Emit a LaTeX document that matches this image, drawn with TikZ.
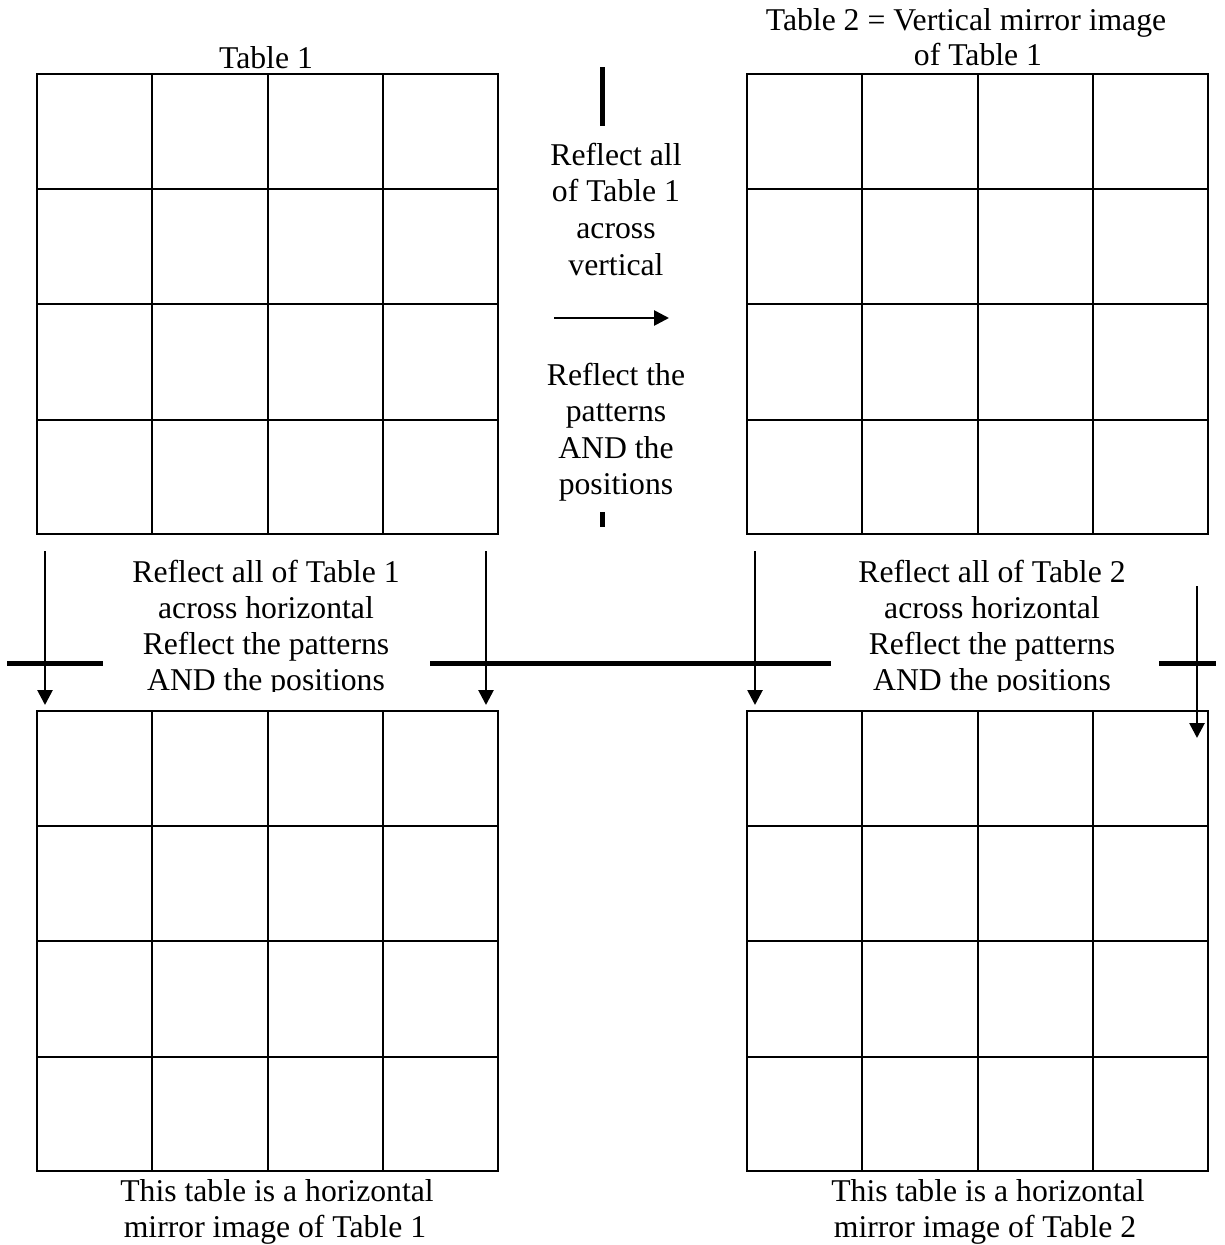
\documentclass[tikz,border=0pt]{standalone}
\usepackage{fontspec}
\setmainfont{Liberation Serif}
\usetikzlibrary{arrows.meta,calc}
\begin{document}
\begin{tikzpicture}[x=1pt,y=-1pt,
  lbl/.style={inner sep=0pt, anchor=base, font=\fontsize{31.7pt}{36.6pt}\selectfont},
  tbl/.style={draw, line width=2pt, minimum width=461pt, minimum height=460pt, inner sep=0pt, anchor=north west},
  gridline/.style={line width=2pt},
  arr/.style={line width=2.7pt, -{Triangle[length=15pt,width=15pt]}},
  mirror/.style={line width=5pt}
]
\useasboundingbox[fill=white] (0,0) rectangle (1225,1245);

% tables
\foreach \n/\x/\y in {t1/36/73, t2/746/73, t3/36/710, t4/746/710} {
  \node[tbl] (\n) at (\x,\y) {};
  \foreach \i in {1,2,3} {
    \draw[gridline] ($(\n.north west)!\i/4!(\n.north east)$) -- ($(\n.south west)!\i/4!(\n.south east)$);
    \draw[gridline] ($(\n.north west)!\i/4!(\n.south west)$) -- ($(\n.north east)!\i/4!(\n.south east)$);
  }
}

% titles
\node[lbl] (lt1) at (266,68) {Table 1};
\node[lbl] (lt2a) at (966,30) {Table 2 = Vertical mirror image};
\node[lbl] (lt2b) at (978,65) {of Table 1};

% centre column text
\node[lbl] (c1) at (616,165) {Reflect all};
\node[lbl] (c2) at (616,201.5) {of Table 1};
\node[lbl] (c3) at (616,238) {across};
\node[lbl] (c4) at (616,275) {vertical};
\node[lbl] (c5) at (616,385) {Reflect the};
\node[lbl] (c6) at (616,421.5) {patterns};
\node[lbl] (c7) at (616,458) {AND the};
\node[lbl] (c8) at (616,494.5) {positions};

% middle text blocks (clipped at the bottom)
\begin{scope}
  \clip (100,540) rectangle (435,691);
  \node[lbl] (m1) at (266,582) {Reflect all of Table 1};
  \node[lbl] (m2) at (266,618) {across horizontal};
  \node[lbl] (m3) at (266,654) {Reflect the patterns};
  \node[lbl] (m4) at (266,690) {AND the positions};
\end{scope}
\begin{scope}
  \clip (831,540) rectangle (1159,691);
  \node[lbl] (n1) at (992,582) {Reflect all of Table 2};
  \node[lbl] (n2) at (992,618) {across horizontal};
  \node[lbl] (n3) at (992,654) {Reflect the patterns};
  \node[lbl] (n4) at (992,690) {AND the positions};
\end{scope}

% bottom captions
\node[lbl] (b1) at (277,1201) {This table is a horizontal};
\node[lbl] (b2) at (275,1237) {mirror image of Table 1};
\node[lbl] (b3) at (988,1201) {This table is a horizontal};
\node[lbl] (b4) at (985,1237) {mirror image of Table 2};

% mirror lines
\coordinate (v1a) at (602,67);  \coordinate (v1b) at (602,126);
\coordinate (v2a) at (602,512); \coordinate (v2b) at (602,527);
\draw[mirror] (v1a) -- (v1b);
\draw[mirror] (v2a) -- (v2b);
\coordinate (h1a) at (7,663);    \coordinate (h1b) at (103,663);
\coordinate (h2a) at (430,663);  \coordinate (h2b) at (831,663);
\coordinate (h3a) at (1159,663); \coordinate (h3b) at (1216,663);
\draw[mirror] (h1a) -- (h1b);
\draw[mirror] (h2a) -- (h2b);
\draw[mirror] (h3a) -- (h3b);

% arrows
\coordinate (ra) at (554,318); \coordinate (rb) at (669,318);
\draw[arr] (ra) -- (rb);
\coordinate (a1s) at (45,551);   \coordinate (a1e) at (45,705);
\coordinate (a2s) at (486,551);  \coordinate (a2e) at (486,705);
\coordinate (a3s) at (755,551);  \coordinate (a3e) at (755,705);
\coordinate (a4s) at (1197,586); \coordinate (a4e) at (1197,738);
\draw[arr] (a1s) -- (a1e);
\draw[arr] (a2s) -- (a2e);
\draw[arr] (a3s) -- (a3e);
\draw[arr] (a4s) -- (a4e);
\end{tikzpicture}
\end{document}
